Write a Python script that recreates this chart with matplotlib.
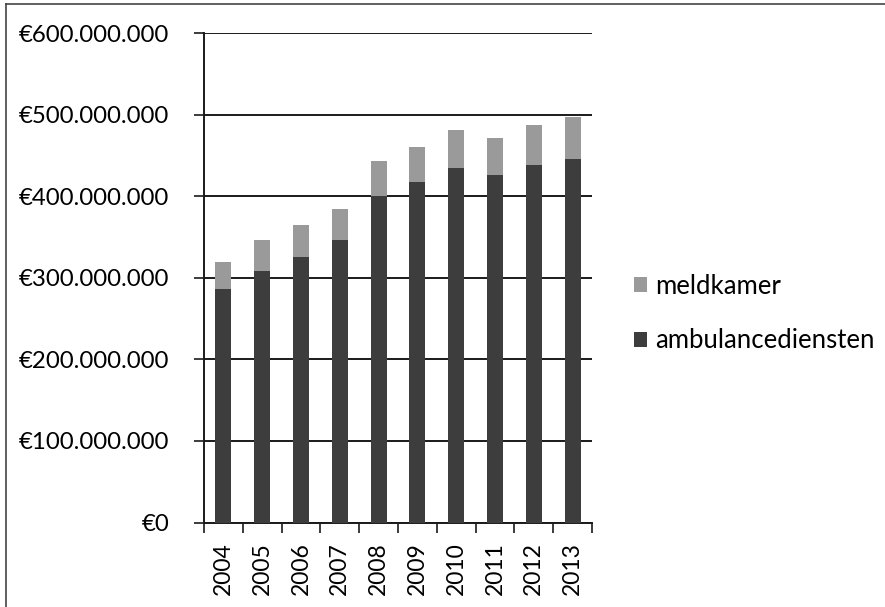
import matplotlib
matplotlib.use("Agg")
import matplotlib.pyplot as plt
from matplotlib.lines import Line2D
from matplotlib.ticker import FuncFormatter, FixedLocator

plt.rcParams['font.family'] = ['Lato', 'DejaVu Sans']

years = ['2004', '2005', '2006', '2007', '2008', '2009', '2010', '2011', '2012', '2013']
ambulancediensten = [286e6, 309e6, 326e6, 347e6, 400e6, 418e6, 435e6, 426e6, 438e6, 446e6]
meldkamer = [34e6, 37e6, 39e6, 38e6, 43e6, 43e6, 46e6, 46e6, 49e6, 51e6]
yticks = [0, 100e6, 200e6, 300e6, 400e6, 500e6, 600e6]

dark = '#3d3d3d'
light = '#9a9a9a'

fig = plt.figure(figsize=(8.85, 6.07), dpi=100)
ax = fig.add_axes([0.2305, 0.1392, 0.4385, 0.8059])

x = list(range(len(years)))
b1 = ax.bar(x, ambulancediensten, width=0.41, color=dark, label='ambulancediensten', zorder=3)
b2 = ax.bar(x, meldkamer, width=0.41, bottom=ambulancediensten, color=light, label='meldkamer', zorder=3)

ax.set_xlim(-0.5, len(years) - 0.5)
ax.set_ylim(0, 600e6)
ax.set_yticks(yticks)

def euro(v, pos):
    s = f"{int(round(v)):,}".replace(',', '.')
    return '€' + s
ax.yaxis.set_major_formatter(FuncFormatter(euro))
ax.yaxis.grid(True, color='#1a1a1a', linewidth=1.4, zorder=1)
ax.tick_params(axis='y', direction='out', length=7, width=1.2, pad=18, labelsize=17.3, color='#1a1a1a')

ax.set_xticks(x)
ax.set_xticklabels(years, rotation=90)
ax.xaxis.set_minor_locator(FixedLocator([i - 0.5 for i in range(len(years) + 1)]))
ax.tick_params(axis='x', which='major', length=0, pad=14, labelsize=16.5)
ax.tick_params(axis='x', which='minor', direction='out', length=7, width=1.2, color='#1a1a1a')

for s in ['top', 'right']:
    ax.spines[s].set_visible(False)
for s in ['left', 'bottom']:
    ax.spines[s].set_color('#1a1a1a')
    ax.spines[s].set_linewidth(1.4)

handles = [b2, b1]
labels = ['meldkamer', 'ambulancediensten']
fig.legend(handles, labels, loc='upper left', bbox_to_anchor=(0.716, 0.549),
           frameon=False, fontsize=18.5, handlelength=0.5, handleheight=0.5,
           handletextpad=0.35, labelspacing=1.15, borderaxespad=0, borderpad=0)

# outer frame lines of the scanned page
fig.add_artist(Line2D([6/885, 6/885], [0, 1 - 4/607], transform=fig.transFigure, color='#444444', linewidth=1.2))
fig.add_artist(Line2D([6/885, 1], [1 - 4/607, 1 - 4/607], transform=fig.transFigure, color='#444444', linewidth=1.2))

fig.savefig('out.png', dpi=100)
